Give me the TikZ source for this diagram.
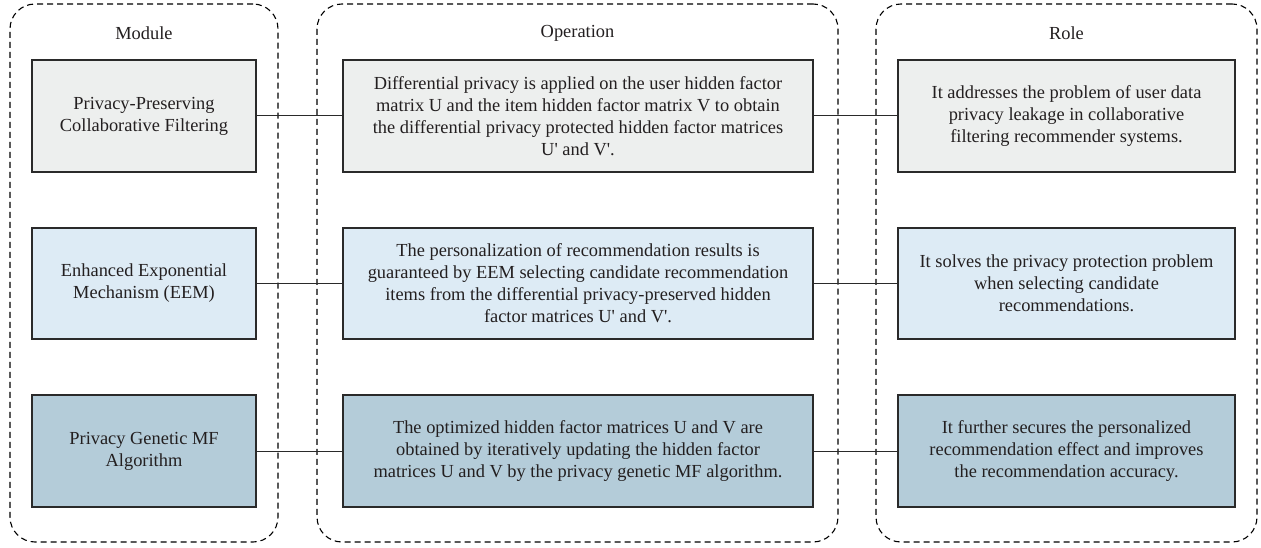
\documentclass[tikz,border=0pt]{standalone}
\usepackage{fontspec}
\setmainfont{Liberation Serif}
\definecolor{rowA}{HTML}{EDEFEE}
\definecolor{rowB}{HTML}{DDEBF5}
\definecolor{rowC}{HTML}{B4CCD9}
\definecolor{ink}{HTML}{231F20}
\definecolor{frame}{HTML}{2A2A2A}
\newcommand{\pr}{\textquotesingle}
\begin{document}
\begin{tikzpicture}[x=1pt,y=-1pt,
  container/.style={draw=black, line width=1.1pt, dash pattern=on 6pt off 4pt, rounded corners=25pt, minimum height=538pt, inner sep=0pt},
  header/.style={text=ink, font=\fontsize{18.4}{22}\selectfont},
  box/.style={draw=frame, line width=1.1pt, align=center, text=ink, inner sep=0pt,
    font=\fontsize{18.4}{22}\selectfont},
  mbox/.style={box, minimum width=224pt},
  obox/.style={box, minimum width=470pt},
  rbox/.style={box, minimum width=337pt},
  link/.style={draw=frame, line width=1pt}]
\useasboundingbox (0,0) rectangle (1261,548);
% containers
\node[container, minimum width=268pt] (cmod) at (144,273) {};
\node[container, minimum width=521pt] (cop) at (577.5,273) {};
\node[container, minimum width=381pt] (crole) at (1066.5,273) {};
% headers
\node[header] (hmod) at (144,33) {Module};
\node[header] (hop) at (577.5,33) {Operation};
\node[header] (hrole) at (1066.5,33) {Role};
% row 1
\node[mbox, fill=rowA, minimum height=112pt] (m1) at (144,116) {Privacy-Preserving\\Collaborative Filtering};
\node[obox, fill=rowA, minimum height=112pt] (o1) at (578,116) {Differential privacy is applied on the user hidden factor\\matrix U and the item hidden factor matrix V to obtain\\the differential privacy protected hidden factor matrices\\U\pr{} and V\pr.};
\node[rbox, fill=rowA, minimum height=112pt] (r1) at (1066.5,116) {It addresses the problem of user data\\privacy leakage in collaborative\\filtering recommender systems.};
% row 2
\node[mbox, fill=rowB, minimum height=111pt] (m2) at (144,283.5) {Enhanced Exponential\\Mechanism (EEM)};
\node[obox, fill=rowB, minimum height=111pt] (o2) at (578,283.5) {The personalization of recommendation results is\\guaranteed by EEM selecting candidate recommendation\\items from the differential privacy-preserved hidden\\factor matrices U\pr{} and V\pr.};
\node[rbox, fill=rowB, minimum height=111pt] (r2) at (1066.5,283.5) {It solves the privacy protection problem\\when selecting candidate\\recommendations.};
% row 3
\node[mbox, fill=rowC, minimum height=112pt] (m3) at (144,451) {Privacy Genetic MF\\Algorithm};
\node[obox, fill=rowC, minimum height=112pt] (o3) at (578,451) {The optimized hidden factor matrices U and V are\\obtained by iteratively updating the hidden factor\\matrices U and V by the privacy genetic MF algorithm.};
\node[rbox, fill=rowC, minimum height=112pt] (r3) at (1066.5,451) {It further secures the personalized\\recommendation effect and improves\\the recommendation accuracy.};
% connectors
\draw[link] (m1.east) -- (o1.west);
\draw[link] (o1.east) -- (r1.west);
\draw[link] (m2.east) -- (o2.west);
\draw[link] (o2.east) -- (r2.west);
\draw[link] (m3.east) -- (o3.west);
\draw[link] (o3.east) -- (r3.west);
\end{tikzpicture}
\end{document}
